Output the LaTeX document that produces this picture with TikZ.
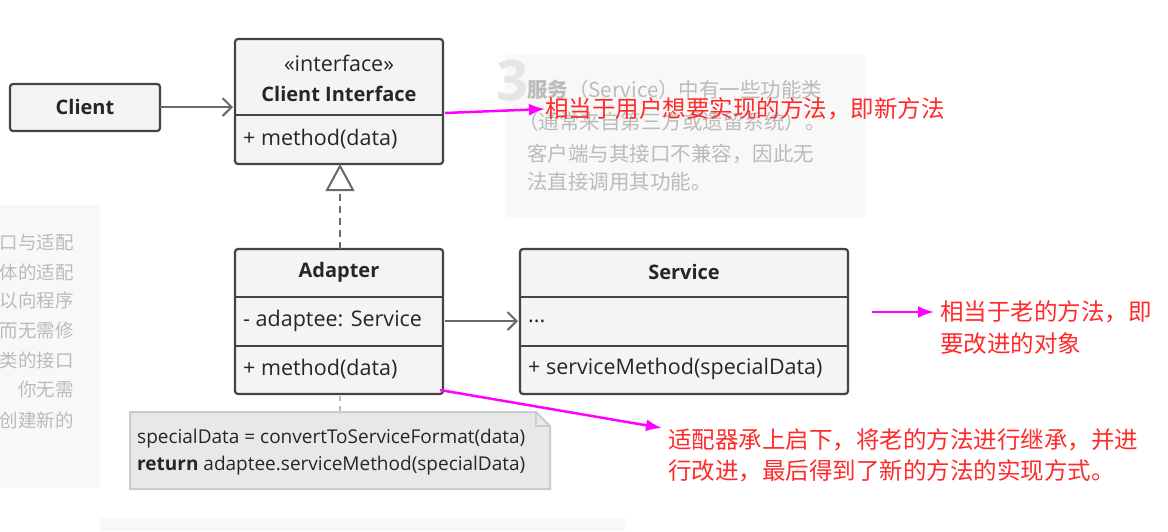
\documentclass[tikz,border=0pt]{standalone}
\usepackage{fontspec}
\setmainfont{Open Sans}
\newfontfamily\cjk{Noto Sans CJK SC}
\usetikzlibrary{arrows.meta}
\definecolor{bd}{HTML}{444444}
\definecolor{bx}{HTML}{F4F4F4}
\definecolor{pn}{HTML}{F8F8F8}
\definecolor{gt}{HTML}{BBBBBB}
\definecolor{rd}{HTML}{FF2A2A}
\definecolor{mg}{HTML}{FF00FF}
\tikzset{
 box/.style={draw=bd,line width=2.2pt,fill=bx,rounded corners=3pt},
 sep/.style={draw=bd,line width=2.2pt},
 t/.style={font=\fontsize{21.5}{24}\selectfont,text=black!85,inner sep=0pt},
 tb/.style={t,font=\bfseries\fontsize{20}{24}\selectfont},
 gtx/.style={font=\cjk\fontsize{20.5}{24}\selectfont,text=gt,inner sep=0pt},
 red/.style={font=\cjk\fontsize{23.5}{28}\selectfont,text=rd,inner sep=0pt,anchor=west},
 arr/.style={draw=bd!80,line width=2pt,-{Straight Barb[length=9pt,width=18pt]}},
 mag/.style={draw=mg,line width=2.5pt,-{Latex[length=16pt,width=12pt]}},
}
\begin{document}
\begin{tikzpicture}[x=1pt,y=-1pt]
\useasboundingbox[fill=white] (0,0) rectangle (1168,531);
% background panels
\fill[pn] (0,205) rectangle (100,488);
\fill[pn] (505,55) rectangle (865,217);
\fill[pn] (100,518) rectangle (625,531);
\node[font=\bfseries\fontsize{56}{56}\selectfont,text=black!10,inner sep=0pt] (three) at (512,80) {3};
% left panel text
\foreach \s/\y [count=\i] in {口与适配/242,体的适配/272,以向程序/300,而无需修/330,类的接口/360,你无需/390,创建新的/420}
  \node[gtx,font=\cjk\fontsize{18.5}{22}\selectfont,anchor=east] (l\i) at (74,\y) {\s};
% top panel text
\node[gtx,anchor=west] (p1) at (527,90) {\textbf{服务}（Service）中有一些功能类};
\node[gtx,anchor=west] (p2) at (518,122) {（通常来自第三方或遗留系统）。};
\node[gtx,anchor=west] (p3) at (527,154) {客户端与其接口不兼容，因此无};
\node[gtx,anchor=west] (p4) at (527,182) {法直接调用其功能。};
% Client
\draw[box] (10,84) rectangle (160,131);
\node[tb] (client) at (85,107) {Client};
\coordinate (cr) at (160,107);
% Client Interface
\draw[box] (235,39) rectangle (443,164);
\draw[sep] (235,115) -- (443,115);
\node[t] (ci1) at (339,63) {«interface»};
\node[tb] (ci2) at (339,94) {Client Interface};
\node[t,anchor=west] (ci3) at (243,139) {+ method(data)};
\coordinate (cil) at (233,107);
\coordinate (cib) at (340,166);
% Adapter
\draw[box] (235,249) rectangle (443,394);
\draw[sep] (235,297) -- (443,297);
\draw[sep] (235,346) -- (443,346);
\node[tb] (ad) at (339,272) {Adapter};
\node[t,anchor=west] (ad2) at (243,321) {- adaptee: Service};
\node[t,anchor=west] (ad3) at (243,369) {+ method(data)};
\coordinate (adt) at (340,249);
\coordinate (adr) at (445,321);
\coordinate (adb) at (340,396);
% Service
\draw[box] (520,249) rectangle (848,394);
\draw[sep] (520,297) -- (848,297);
\draw[sep] (520,346) -- (848,346);
\node[tb] (sv) at (684,272) {Service};
\node[t,anchor=west] (sv2) at (528,321) {...};
\node[t,anchor=west] (sv3) at (528,369) {+ serviceMethod(specialData)};
\coordinate (svl) at (518,321);
% connectors
\draw[arr] (cr) -- (cil);
\draw[arr] (adr) -- (svl);
\draw[bd!80,line width=2pt,dash pattern=on 7pt off 5pt] (adt) -- (340,190);
\draw[bd!80,line width=2pt,fill=white,line join=miter] (cib) -- (327,190) -- (353,190) -- cycle;
% note
\draw[gt,line width=2pt,dash pattern=on 5pt off 5pt] (adb) -- (340,412);
\draw[fill=black!9,draw=black!20,line width=2pt] (130,412) -- (536,412) -- (550,426) -- (550,489) -- (130,489) -- cycle;
\draw[draw=black!20,line width=1.5pt] (536,412) -- (536,426) -- (550,426);
\node[t,anchor=west,font=\fontsize{19}{22}\selectfont] (n1) at (137,439) {specialData = convertToServiceFormat(data)};
\node[t,anchor=west,font=\fontsize{19}{22}\selectfont] (n2) at (137,466) {\textbf{return} adaptee.serviceMethod(specialData)};
% red annotations
\node[red] (r1) at (545,109) {相当于用户想要实现的方法，即新方法};
\node[red] (r2) at (940,312) {相当于老的方法，即};
\node[red] (r3) at (940,344) {要改进的对象};
\node[red] (r4) at (668,440) {适配器承上启下，将老的方法进行继承，并进};
\node[red] (r5) at (668,471) {行改进，最后得到了新的方法的实现方式。};
\coordinate (m1) at (445,113);
\coordinate (m2) at (872,312);
\coordinate (m3) at (440,390);
\draw[mag] (m1) -- (r1.west);
\draw[mag] (m2) -- ([xshift=-6pt]r2.west);
\draw[mag] (m3) -- (662,428);
\end{tikzpicture}
\end{document}
